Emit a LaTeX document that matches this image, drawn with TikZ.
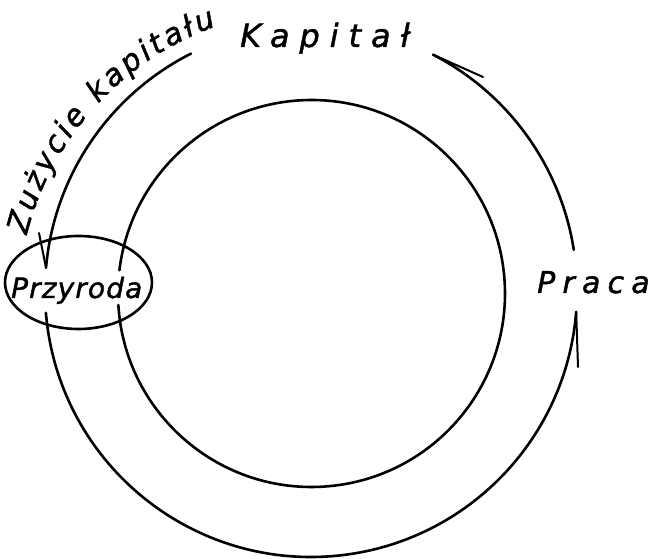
\documentclass[tikz,border=0pt]{standalone}
\usepackage{fontspec}
\usetikzlibrary{decorations.text,calc}
\newfontfamily\labfont{DejaVu Sans}[FakeBold=1.4]
\newfontfamily\kapfont{DejaVu Sans}[LetterSpace=31,FakeBold=1.4]
\newfontfamily\prafont{DejaVu Sans}[LetterSpace=24,FakeBold=1.4]
\newfontfamily\przfont{DejaVu Sans}[LetterSpace=4,FakeBold=1.4]
\newcommand\zuzfont{\fontsize{30}{36}\selectfont\labfont\itshape}
\begin{document}
\begin{tikzpicture}[x=1pt,y=1pt,
  ring/.style={line width=2.6pt,line cap=round},
  barb/.style={line width=2pt,line cap=round},
  lbl/.style={inner sep=0pt,anchor=base west}]
\useasboundingbox (0,0) rectangle (653,559);
\coordinate (oc) at (311,268);
\coordinate (ic) at (311.5,265.5);
\coordinate (tc) at (316,252);
% inner circle
\draw[ring] ($(ic)+(183.4:193.5)$) arc[start angle=183.4,end angle=533.1,radius=193.5];
% outer arcs
\draw[ring] ($(oc)+(8.9:266)$) arc[start angle=8.9,end angle=62.7,radius=266] coordinate (tipA);
\draw[ring] ($(oc)+(116.8:266)$) arc[start angle=116.8,end angle=175,radius=266] coordinate (tipB);
\draw[ring] ($(oc)+(184.7:266)$) arc[start angle=184.7,end angle=355.5,radius=266] coordinate (tipC);
% barbs
\coordinate (bA) at (483,482);
\coordinate (bB) at (39,326);
\coordinate (bC) at (578,192);
\draw[barb] (tipA) -- (bA);
\draw[barb] (bB) -- (tipB);
\draw[barb] (tipC) -- (bC);
% ellipse
\draw[ring] (78.5,276.5) ellipse[x radius=73.5,y radius=46.5];
% labels
\node[lbl] (kap) at (240,512) {\fontsize{32}{38}\selectfont\kapfont\itshape Kapitał};
\node[lbl] (pra) at (537,266) {\fontsize{30}{36}\selectfont\prafont\itshape Praca};
\node[lbl] (prz) at (11,261) {\fontsize{28}{34}\selectfont\przfont\itshape Przyroda};
\path[decorate,decoration={text along path,text={|\zuzfont|Zużycie kapitału},text align=fit to path}]
  ($(tc)+(166:298)$) arc[start angle=166,end angle=109.5,radius=298];
\end{tikzpicture}
\end{document}
